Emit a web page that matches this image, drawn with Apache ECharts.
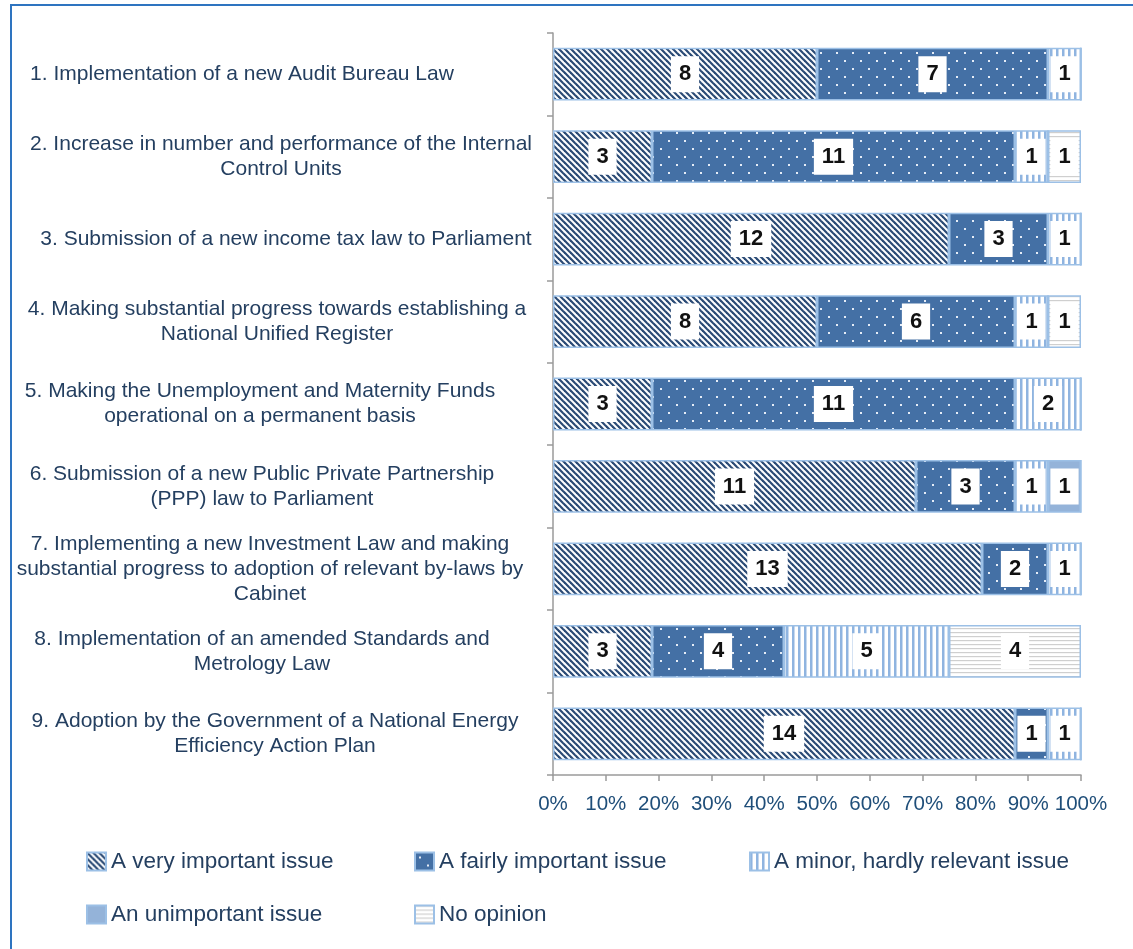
<!DOCTYPE html>
<html>
<head>
<meta charset="utf-8">
<script src="https://cdn.jsdelivr.net/npm/echarts@6/dist/echarts.min.js"></script>
<style>
  html, body { margin: 0; padding: 0; background: #fff; }
  #frame { position: absolute; left: 10px; top: 4px; width: 1140px; height: 960px;
           border-left: 2px solid #2e74c0; border-top: 2px solid #2e74c0; }
  #main { position: absolute; left: 0; top: 0; width: 1133px; height: 949px; }
</style>
</head>
<body>
<div id="frame"></div>
<div id="main"></div>
<script>
// categories (line breaks as in the original)
var categories = [
  '1. Implementation of a new Audit Bureau Law',
  '2. Increase in number and performance of the Internal\nControl Units',
  '3. Submission of a new income tax law to Parliament',
  '4. Making substantial progress towards establishing a\nNational Unified Register',
  '5. Making the Unemployment and Maternity Funds\noperational on a permanent basis',
  '6. Submission of a new Public Private Partnership\n(PPP) law to Parliament',
  '7. Implementing a new Investment Law and making\nsubstantial progress to adoption of relevant by-laws by\nCabinet',
  '8. Implementation of an amended Standards and\nMetrology Law',
  '9. Adoption by the Government of a National Energy\nEfficiency Action Plan'
];

var seriesNames = [
  'A very important issue',
  'A fairly important issue',
  'A minor, hardly relevant issue',
  'An unimportant issue',
  'No opinion'
];

// answer counts per category
var veryImportant   = [8, 3, 12, 8, 3, 11, 13, 3, 14];
var fairlyImportant = [7, 11, 3, 6, 11, 3, 2, 4, 1];
var minorIssue      = [1, 1, 1, 1, 2, 1, 1, 5, 1];
var unimportant     = [0, 0, 0, 0, 0, 1, 0, 0, 0];
var noOpinion       = [0, 1, 0, 1, 0, 0, 0, 4, 0];

var xTicks = [0, 10, 20, 30, 40, 50, 60, 70, 80, 90, 100];

var counts = [veryImportant, fairlyImportant, minorIssue, unimportant, noOpinion];

// horizontal centre of each category label (px), as laid out in the original
var labelCentres = [242, 281, 286, 277, 260, 262, 270, 262, 275];
var LABEL_BASE = 290;

var FONT = 'Liberation Sans, Arial, sans-serif';

// fill patterns
function makePattern(w, h, draw) {
  var c = document.createElement('canvas');
  c.width = w; c.height = h;
  var ctx = c.getContext('2d');
  draw(ctx, w, h);
  return { image: c, repeat: 'repeat' };
}
var pDiag = makePattern(6, 6, function (ctx, w, h) {
  ctx.fillStyle = '#fff'; ctx.fillRect(0, 0, w, h);
  ctx.strokeStyle = '#2a4a75'; ctx.lineWidth = 2.2;
  [-6, 0, 6].forEach(function (k) {
    ctx.beginPath(); ctx.moveTo(k - 1, -1); ctx.lineTo(k + 7, 7); ctx.stroke();
  });
});
var pDots = makePattern(16, 16, function (ctx, w, h) {
  ctx.fillStyle = '#4470a5'; ctx.fillRect(0, 0, w, h);
  ctx.fillStyle = '#e6edf7';
  ctx.fillRect(4, 4, 2, 2);
  ctx.fillRect(12, 12, 2, 2);
});
var pVert = makePattern(6, 6, function (ctx, w, h) {
  ctx.fillStyle = '#fff'; ctx.fillRect(0, 0, w, h);
  ctx.fillStyle = '#8fb4e0'; ctx.fillRect(0, 0, 2.5, h);
});
var pSolid = '#94b3d9';
var pHoriz = makePattern(4, 4, function (ctx, w, h) {
  ctx.fillStyle = '#fff'; ctx.fillRect(0, 0, w, h);
  ctx.fillStyle = '#cfcfcf'; ctx.fillRect(0, 0, w, 1.2);
});
var fills = [pDiag, pDots, pVert, pSolid, pHoriz];

var totals = categories.map(function (c, i) {
  return counts.reduce(function (s, arr) { return s + arr[i]; }, 0);
});

var series = counts.map(function (arr, si) {
  return {
    name: seriesNames[si],
    type: 'bar',
    stack: 'all',
    barWidth: '64%',
    itemStyle: { color: fills[si], borderColor: '#9cc0e6', borderWidth: 1.5 },
    label: {
      show: true,
      position: 'inside',
      color: '#111',
      fontWeight: 'bold',
      fontSize: 22,
      fontFamily: FONT,
      backgroundColor: '#fff',
      padding: [8, 8, 6, 8],
      formatter: function (p) { return arr[p.dataIndex]; }
    },
    data: arr.map(function (v, i) {
      return { value: v / totals[i] * 100, label: { show: v > 0 } };
    })
  };
});

// rich styles that shift each category label to its own centre
var rich = {};
labelCentres.forEach(function (c, i) {
  var shift = LABEL_BASE - c; // >0 means move left
  rich['r' + i] = {
    fontSize: 21,
    lineHeight: 25,
    color: '#243f60',
    fontFamily: FONT,
    padding: shift > 0 ? [0, 2 * shift, 0, 0] : [0, 0, 0, -2 * shift]
  };
});

var legendPos = [[86, 850], [414, 850], [749, 850], [86, 903], [414, 903]];
var legends = seriesNames.map(function (n, i) {
  return {
    data: [n],
    left: legendPos[i][0],
    top: legendPos[i][1],
    padding: 0,
    itemWidth: 19,
    itemHeight: 18,
    icon: 'rect',
    selectedMode: false,
    textStyle: { fontSize: 22.5, color: '#243f60', fontFamily: FONT }
  };
});

var myChart = echarts.init(document.getElementById('main'));
var option = {
  animation: false,
  textStyle: { fontFamily: FONT },
  legend: legends,
  grid: { left: 553, right: 52, top: 33, bottom: 174, containLabel: false },
  xAxis: {
    type: 'value',
    min: 0,
    max: 100,
    interval: 10,
    axisLine: { show: true, lineStyle: { color: '#9a9a9a', width: 1.5 } },
    axisTick: { show: true, length: 6, lineStyle: { color: '#9a9a9a', width: 1.5 } },
    splitLine: { show: false },
    axisLabel: {
      margin: 19,
      fontSize: 20.5,
      color: '#1f4e79',
      fontFamily: FONT,
      formatter: function (v) { return xTicks.indexOf(v) >= 0 ? v + '%' : ''; }
    }
  },
  yAxis: {
    type: 'category',
    inverse: true,
    data: categories,
    axisLine: { show: true, lineStyle: { color: '#9a9a9a', width: 1.5 } },
    axisTick: { show: true, length: 6, lineStyle: { color: '#9a9a9a', width: 1.5 } },
    axisLabel: {
      margin: 553 - LABEL_BASE,
      align: 'center',
      fontSize: 21,
      lineHeight: 25,
      color: '#243f60',
      fontFamily: FONT,
      rich: rich,
      formatter: function (value, idx) {
        return value.split('\n').map(function (line) {
          return '{r' + idx + '|' + line + '}';
        }).join('\n');
      }
    }
  },
  series: series
};
myChart.setOption(option);
</script>
</body>
</html>
